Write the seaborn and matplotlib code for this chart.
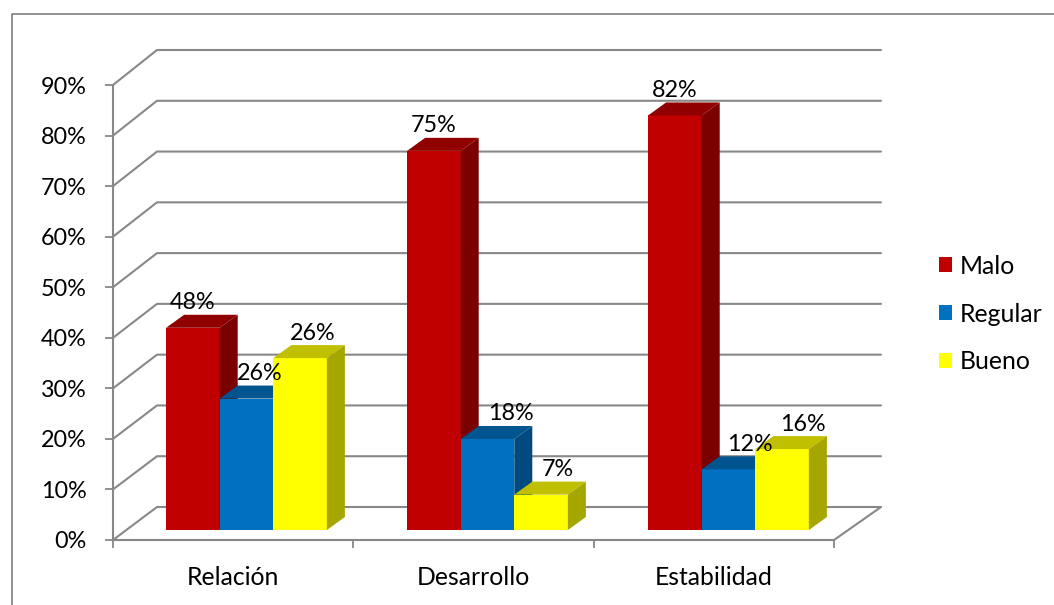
import matplotlib.pyplot as plt
import pandas as pd
import seaborn as sns
from matplotlib.lines import Line2D
from matplotlib.patches import Patch, Polygon
from matplotlib.transforms import IdentityTransform

categories = ['Relación', 'Desarrollo', 'Estabilidad']
series = ['Malo', 'Regular', 'Bueno']
malo = [40, 75, 82]
regular = [26, 18, 12]
bueno = [34, 7, 16]
# the printed labels do not always agree with the bar heights in the original
malo_labels = ['48%', '75%', '82%']
regular_labels = ['26%', '18%', '12%']
bueno_labels = ['26%', '7%', '16%']
y_ticks = [0, 10, 20, 30, 40, 50, 60, 70, 80, 90]

W, H = 1054, 605
GREY = '#888888'
colors = ['#C00000', '#0070C0', '#FFFF00']
top_colors = ['#900000', '#00548F', '#C0C000']
side_colors = ['#7B0000', '#004A7F', '#A6A600']

# depth of the bars in pixels
BAR_DX, BAR_DY = 18, 13
LABEL_SHIFT = {'Relación': [0, 13, 13], 'Desarrollo': [0, 23, 17], 'Estabilidad': [0, 21, 21]}

sns.set_theme(style='white')
plt.rcParams['font.family'] = ['Lato', 'DejaVu Sans']
FONT = 17.8
PCT_FONT = 16.8


def px_axes(fig, left, right, top, bottom):
    return fig.add_axes([left / W, 1 - bottom / H, (right - left) / W, (bottom - top) / H])


fig = plt.figure(figsize=(W / 100, H / 100), dpi=100, facecolor='white')

# Back wall, only used as a scale for the far end of the grid lines
back = px_axes(fig, 157, 881, 50, 507)
back.set_xlim(-0.5, 2.5)
back.set_ylim(0, 90)
back.axis('off')

# Front plane: this one carries the ticks and the axis lines
ax = px_axes(fig, 113, 834, 85, 540)
ax.set_xlim(-0.5, 2.5)
ax.set_ylim(0, 90)
ax.patch.set_visible(False)
ax.spines[['top', 'right']].set_visible(False)
ax.spines[['left', 'bottom']].set_color(GREY)
ax.spines[['left', 'bottom']].set_linewidth(1.5)
ax.set_yticks(y_ticks, [f'{v}%' for v in y_ticks], fontsize=PCT_FONT, color='black')
ax.set_xticks(range(3), categories, fontsize=FONT, color='black')
ax.set_xticks([-0.5, 0.5, 1.5, 2.5], minor=True)
ax.tick_params(axis='y', left=True, length=6, width=1.3, color=GREY, pad=13)
ax.tick_params(axis='x', which='major', bottom=False, pad=13)
ax.tick_params(axis='x', which='minor', bottom=True, length=6, width=1.3, color=GREY)

# Walls and floor, built from the two y scales
for v in y_ticks:
    front_pt = ax.transData.transform((-0.5, v))
    back_left = back.transData.transform((-0.5, v))
    back_right = back.transData.transform((2.5, v))
    ax.add_line(Line2D([front_pt[0], back_left[0], back_right[0]],
                       [front_pt[1], back_left[1], back_right[1]],
                       color=GREY, lw=1.5, transform=IdentityTransform(), clip_on=False))
floor_front = ax.transData.transform((2.5, 0))
floor_back = back.transData.transform((2.5, 0))
ax.add_line(Line2D([floor_front[0], floor_back[0]], [floor_front[1], floor_back[1]],
                   color=GREY, lw=1.5, transform=IdentityTransform(), clip_on=False))

# Bars sit a bit inside the box, so they get their own shifted axes
bar_ax = px_axes(fig, 126, 849, 75, 530)
bar_ax.patch.set_visible(False)
df = pd.DataFrame({
    'categoria': categories * 3,
    'serie': [s for s in series for _ in categories],
    'valor': malo + regular + bueno,
})
sns.barplot(data=df, x='categoria', y='valor', hue='serie', hue_order=series, order=categories,
            palette=colors, saturation=1, width=0.667, gap=0, legend=False, ax=bar_ax)
bar_ax.set_xlim(-0.5, 2.5)
bar_ax.set_ylim(0, 90)
bar_ax.axis('off')

label_sets = [malo_labels, regular_labels, bueno_labels]
for s, container in enumerate(bar_ax.containers):
    for c, bar in enumerate(container):
        x0, y0 = bar_ax.transData.transform((bar.get_x(), 0))
        x1, y1 = bar_ax.transData.transform((bar.get_x() + bar.get_width(), bar.get_height()))
        z = 2 + 3 * (c * 3 + s)
        bar.set_zorder(z)
        bar.set_edgecolor('none')
        top = [(x0, y1), (x1, y1), (x1 + BAR_DX, y1 + BAR_DY), (x0 + BAR_DX, y1 + BAR_DY)]
        side = [(x1, y0), (x1, y1), (x1 + BAR_DX, y1 + BAR_DY), (x1 + BAR_DX, y0 + BAR_DY)]
        bar_ax.add_patch(Polygon(top, color=top_colors[s], lw=0, zorder=z + 1,
                                 transform=IdentityTransform(), clip_on=False))
        bar_ax.add_patch(Polygon(side, color=side_colors[s], lw=0, zorder=z + 1,
                                 transform=IdentityTransform(), clip_on=False))
        bar_ax.annotate(label_sets[s][c],
                        xy=((x0 + x1) / 2 + LABEL_SHIFT[categories[c]][s], y1 + 25),
                        xycoords=IdentityTransform(), ha='center', va='center',
                        fontsize=PCT_FONT, color='black', zorder=100, annotation_clip=False)

handles = [Patch(facecolor=col, edgecolor='none', label=name) for col, name in zip(colors, series)]
fig.legend(handles=handles, loc='center left', bbox_to_anchor=(939 / W, 1 - 314 / H), frameon=False,
           fontsize=FONT, handlelength=0.53, handleheight=0.53, handletextpad=0.32,
           labelspacing=1.01, labelcolor='black', borderaxespad=0, borderpad=0)

# Outer chart frame: only its top and left edges are inside the picture
fig.add_artist(Line2D([11.5 / W, 11.5 / W, 1], [0, 1 - 13.5 / H, 1 - 13.5 / H], color=GREY, lw=1.3))

fig.savefig('out.png', dpi=100)
